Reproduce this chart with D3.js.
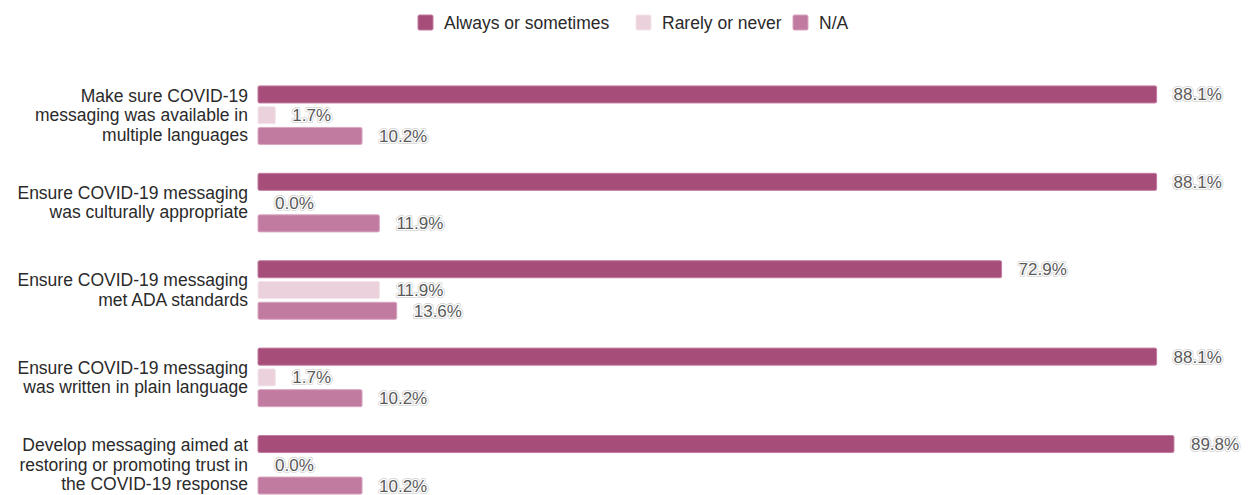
<!DOCTYPE html>
<html>
<head>
<meta charset="utf-8">
<script src="https://cdn.jsdelivr.net/npm/d3@7/dist/d3.min.js"></script>
<style>
  html, body { margin: 0; padding: 0; background: #fff; }
  svg { display: block; font-family: "Liberation Sans", Arial, sans-serif; }
</style>
</head>
<body>
<svg id="chart" width="1256" height="495"></svg>
<script>
// Survey items (each label split into display lines)
const categories = [
  ["Make sure COVID-19", "messaging was available in", "multiple languages"],
  ["Ensure COVID-19 messaging", "was culturally appropriate"],
  ["Ensure COVID-19 messaging", "met ADA standards"],
  ["Ensure COVID-19 messaging", "was written in plain language"],
  ["Develop messaging aimed at", "restoring or promoting trust in", "the COVID-19 response"]
];
const seriesNames = ["Always or sometimes", "Rarely or never", "N/A"];
const alwaysValues = [88.1, 88.1, 72.9, 88.1, 89.8];
const rarelyValues = [1.7, 0.0, 11.9, 1.7, 0.0];
const naValues = [10.2, 11.9, 13.6, 10.2, 10.2];
const colors = ["#a64d79", "#ead1dc", "#c27ba0"];
const strokes = ["#c27ba0", "#f4e4ea", "#d9a6c0"];

const series = [alwaysValues, rarelyValues, naValues];
const rows = categories.map((c, i) => ({
  idx: i,
  lines: c,
  values: series.map((s, k) => ({ k, v: s[i] }))
}));

const svg = d3.select("#chart");

const x = d3.scaleLinear().domain([0, 100]).range([258, 1278]);
const y0 = d3.scaleBand()
  .domain(d3.range(categories.length))
  .range([71.5, 508.5])
  .paddingInner(0.33)
  .paddingOuter(0.165);
const y1 = d3.scaleBand()
  .domain(d3.range(series.length))
  .range([0, y0.bandwidth()])
  .paddingInner(0.18);

// Legend
const legendX = [418, 636, 793];
const legend = svg.append("g").selectAll("g")
  .data(seriesNames)
  .join("g")
  .attr("transform", (d, i) => `translate(${legendX[i]},15)`);
legend.append("rect")
  .attr("width", 15).attr("height", 15).attr("rx", 1.5)
  .attr("fill", (d, i) => colors[i])
  .attr("stroke", (d, i) => strokes[i]).attr("stroke-width", 1);
legend.append("text")
  .attr("x", 26).attr("y", 13.5)
  .attr("font-size", 17.5).attr("fill", "#2a2a2a")
  .text(d => d);

// Groups
const groups = svg.append("g").selectAll("g")
  .data(rows)
  .join("g")
  .attr("transform", d => `translate(0,${y0(d.idx)})`);

// Category labels
groups.append("text")
  .attr("text-anchor", "end")
  .attr("font-size", 17.5)
  .attr("fill", "#2a2a2a")
  .each(function(d) {
    const n = d.lines.length;
    const lh = 19.5;
    const mid = y0.bandwidth() / 2;
    d3.select(this).selectAll("tspan")
      .data(d.lines)
      .join("tspan")
      .attr("x", 248)
      .attr("y", (l, j) => mid + (j - (n - 1) / 2) * lh + 6)
      .text(l => l);
  });

// Bars
groups.selectAll("rect.bar")
  .data(d => d.values)
  .join("rect")
  .attr("class", "bar")
  .attr("x", x(0))
  .attr("y", d => y1(d.k))
  .attr("height", y1.bandwidth())
  .attr("width", d => Math.max(0, x(d.v) - x(0)))
  .attr("rx", 1.5)
  .attr("fill", d => colors[d.k])
  .attr("stroke", d => d.v > 0 ? strokes[d.k] : "none")
  .attr("stroke-width", 1);

// Value labels with halo
const fmt = v => v.toFixed(1) + "%";
const labelAttrs = sel => sel
  .attr("x", d => x(d.v) + 17)
  .attr("y", d => y1(d.k) + y1.bandwidth() / 2 + 6)
  .attr("font-size", 17)
  .text(d => fmt(d.v));

groups.selectAll("text.halo")
  .data(d => d.values)
  .join("text")
  .attr("class", "halo")
  .call(labelAttrs)
  .attr("fill", "none")
  .attr("stroke", "#cfcfcf")
  .attr("stroke-width", 4)
  .attr("stroke-linejoin", "round");

groups.selectAll("text.val")
  .data(d => d.values)
  .join("text")
  .attr("class", "val")
  .call(labelAttrs)
  .attr("fill", "#5a5a5a")
  .attr("stroke", "#fff")
  .attr("stroke-width", 2.6)
  .attr("stroke-linejoin", "round")
  .attr("paint-order", "stroke");
</script>
</body>
</html>
